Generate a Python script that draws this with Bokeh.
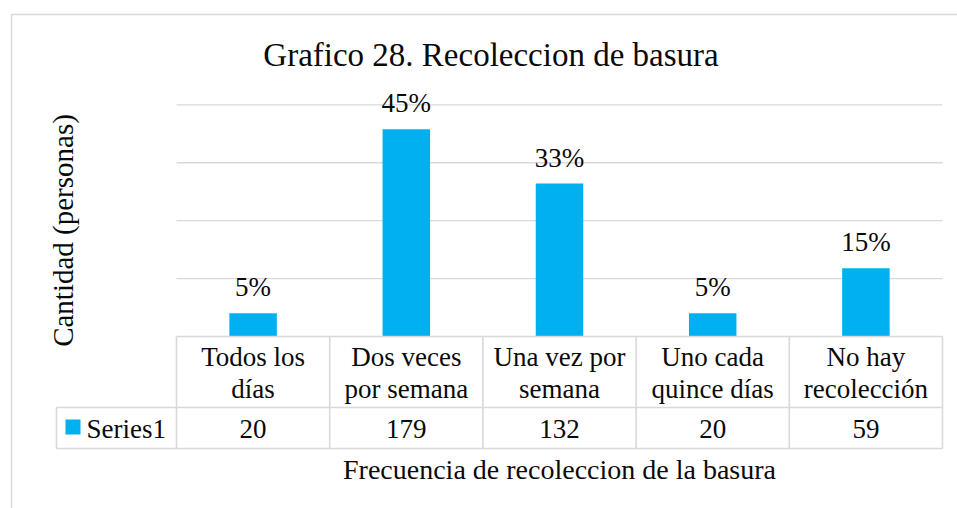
import math
from bokeh.plotting import figure
from bokeh.models import Range1d
from bokeh.core.properties import value
from bokeh.embed import file_html
from bokeh.resources import INLINE

# ---------------- data ----------------
categories = ["Todos los\ndías", "Dos veces\npor semana", "Una vez por\nsemana",
              "Uno cada\nquince días", "No hay\nrecolección"]
counts = [20, 179, 132, 20, 59]
pct_labels = ["5%", "45%", "33%", "5%", "15%"]
grid_values = [50, 100, 150, 200]
series_name = "Series1"
chart_title = "Grafico 28. Recoleccion de basura"
x_title = "Frecuencia de recoleccion de la basura"
y_title = "Cantidad (personas)"

# ---------------- layout (picture pixels) ----------------
FONT = "Liberation Serif"
BAR_COLOR = "#00b0f0"
LINE_COLOR = "#d9d9d9"
TEXT_COLOR = "#0a0a0a"
W, H = 957, 508
OFF = 0
X0, X1 = 176, 942           # plot-area left/right
Y0 = 336                    # zero baseline
PX_PER_UNIT = 1.1585
N = len(categories)
COL_W = (X1 - X0) / N


def px2x(px):
    return (px - X0) / COL_W


def px2y(py):
    return (Y0 - py) / PX_PER_UNIT


def txt(x, y, text, size, align="center", **kw):
    p.text(x=x, y=y, text=text, text_font=value(FONT), text_font_size=value(size),
           text_color=TEXT_COLOR, text_align=align, text_baseline="middle", **kw)


p = figure(width=W, height=H, output_backend="svg", toolbar_location=None,
           x_range=Range1d(px2x(OFF), px2x(OFF + W)),
           y_range=Range1d(px2y(OFF + H), px2y(OFF)),
           x_axis_location=None, y_axis_location=None, min_border=0)
p.xgrid.visible = False
p.ygrid.visible = False
p.outline_line_color = None
p.background_fill_color = "white"
p.border_fill_color = "white"

# chart border (top and left visible in the crop)
p.segment(x0=[px2x(11), px2x(11)], y0=[px2y(14), px2y(14)],
          x1=[px2x(OFF + W + 5), px2x(11)], y1=[px2y(14), px2y(OFF + H + 5)],
          line_color=LINE_COLOR, line_width=1.5)

# gridlines
p.segment(x0=[0] * len(grid_values), y0=grid_values,
          x1=[N] * len(grid_values), y1=grid_values,
          line_color=LINE_COLOR, line_width=1.3)

# bars
xs = [i + 0.5 for i in range(N)]
p.vbar(x=xs, top=counts, bottom=0, width=0.31, fill_color=BAR_COLOR, line_color=None)

# data labels
txt(xs, counts, pct_labels, "27px", y_offset=-26)

# data table lines
row1 = px2y(407)
row2 = px2y(448)
leg_left = px2x(56)
hx0 = [0, leg_left, leg_left]
hy = [0, row1, row2]
hx1 = [N, N, N]
p.segment(x0=hx0, y0=hy, x1=hx1, y1=hy, line_color=LINE_COLOR, line_width=1.6)
vx = list(range(N + 1))
p.segment(x0=vx, y0=[0] * len(vx), x1=vx, y1=[row2] * len(vx),
          line_color=LINE_COLOR, line_width=1.6)
p.segment(x0=[leg_left], y0=[row1], x1=[leg_left], y1=[row2],
          line_color=LINE_COLOR, line_width=1.6)

# category labels (two lines)
line1 = [c.split("\n")[0] for c in categories]
line2 = [c.split("\n")[1] for c in categories]
txt(xs, [px2y(356.5)] * N, line1, "27px")
txt(xs, [px2y(388.5)] * N, line2, "27px")

# values row
txt(xs, [px2y(428.5)] * N, [str(c) for c in counts], "27px")

# legend key in table
p.scatter(x=[px2x(72.5)], y=[px2y(426.5)], marker="square", size=15,
          fill_color=BAR_COLOR, line_color=None)
txt([px2x(86)], [px2y(428.5)], [series_name], "27px", align="left")

# titles
txt([px2x(490.5)], [px2y(54)], [chart_title], "33px")
txt([px2x(559)], [px2y(469)], [x_title], "28px")
txt([px2x(62)], [px2y(230)], [y_title], "29px", angle=math.pi / 2)

with open("out.html", "w") as f:
    f.write(file_html(p, INLINE))
